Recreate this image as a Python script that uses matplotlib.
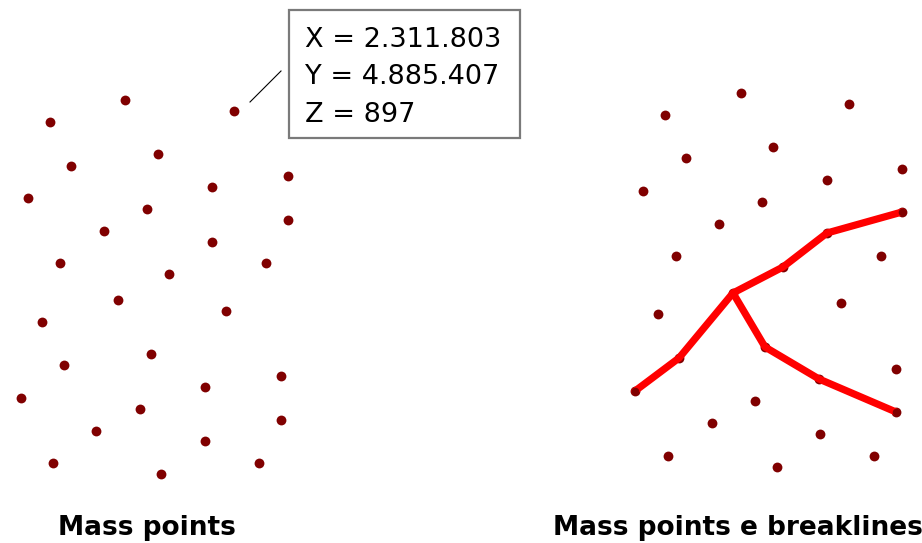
import matplotlib
matplotlib.use("Agg")
import matplotlib.pyplot as plt
from matplotlib.patches import Rectangle

# Mass points (left panel), pixel coordinates
left_x = [125, 50, 234, 158, 71, 288, 212, 28, 147, 288, 104, 212, 60, 266, 169,
          118, 226, 42, 151, 64, 281, 205, 21, 140, 281, 96, 205, 53, 259, 161]
left_y = [100, 122, 111, 154, 166, 176, 187, 198, 209, 220, 231, 242, 263, 263, 274,
          300, 311, 322, 354, 365, 376, 387, 398, 409, 420, 431, 441, 463, 463, 474]

# Mass points (right panel)
right_x = [741, 665, 849, 773, 686, 902, 827, 643, 762, 902, 719, 827, 676, 881, 783,
           733, 658, 841, 679, 765, 896, 635, 819, 896, 755, 712, 820, 668, 777, 874]
right_y = [93, 115, 104, 147, 158, 169, 180, 191, 202, 212, 224, 233, 256, 256, 267,
           293, 314, 303, 358, 347, 369, 391, 379, 412, 401, 423, 434, 456, 467, 456]

# Breaklines
break1_x = [635, 679, 733, 783, 827, 902]
break1_y = [391, 358, 293, 267, 233, 212]
break2_x = [733, 765, 819, 896]
break2_y = [293, 347, 379, 412]

# Callout
callout_lines = ["X = 2.311.803", "Y = 4.885.407", "Z = 897"]
labels = ["Mass points", "Mass points e breaklines"]

W, H = 922, 543
fig = plt.figure(figsize=(W / 100, H / 100), dpi=100)
ax = fig.add_axes([0, 0, 1, 1])
ax.set_xlim(0, W)
ax.set_ylim(H, 0)
ax.axis("off")

dot_color = "#800000"
ax.scatter(left_x, left_y, s=50, color=dot_color, linewidths=0, zorder=2)
ax.scatter(right_x, right_y, s=50, color=dot_color, linewidths=0, zorder=2)

for bx, by in [(break1_x, break1_y), (break2_x, break2_y)]:
    ax.plot(bx, by, color="#ff0000", lw=5.2, solid_capstyle="round",
            solid_joinstyle="round", zorder=3)
ax.scatter([break1_x[0], break1_x[-1], break2_x[-1]],
           [break1_y[0], break1_y[-1], break2_y[-1]],
           s=30, color=dot_color, linewidths=0, zorder=4)

# Callout box + leader line
ax.add_patch(Rectangle((289, 10), 231, 128, facecolor="white",
                       edgecolor="#7a7a7a", lw=1.6, zorder=5))
ax.plot([250, 281], [102, 71], color="black", lw=0.8, zorder=5)
for i, t in enumerate(callout_lines):
    ax.text(305, 47 + i * 37.5, t, fontsize=19.5, family="DejaVu Sans",
            color="black", ha="left", va="baseline", zorder=6)

# Panel labels
ax.text(58, 535, labels[0], fontsize=19, family="DejaVu Sans",
        fontweight="bold", ha="left", va="baseline")
ax.text(553, 535, labels[1], fontsize=19, family="DejaVu Sans",
        fontweight="bold", ha="left", va="baseline")

fig.savefig("out.png", dpi=100)
